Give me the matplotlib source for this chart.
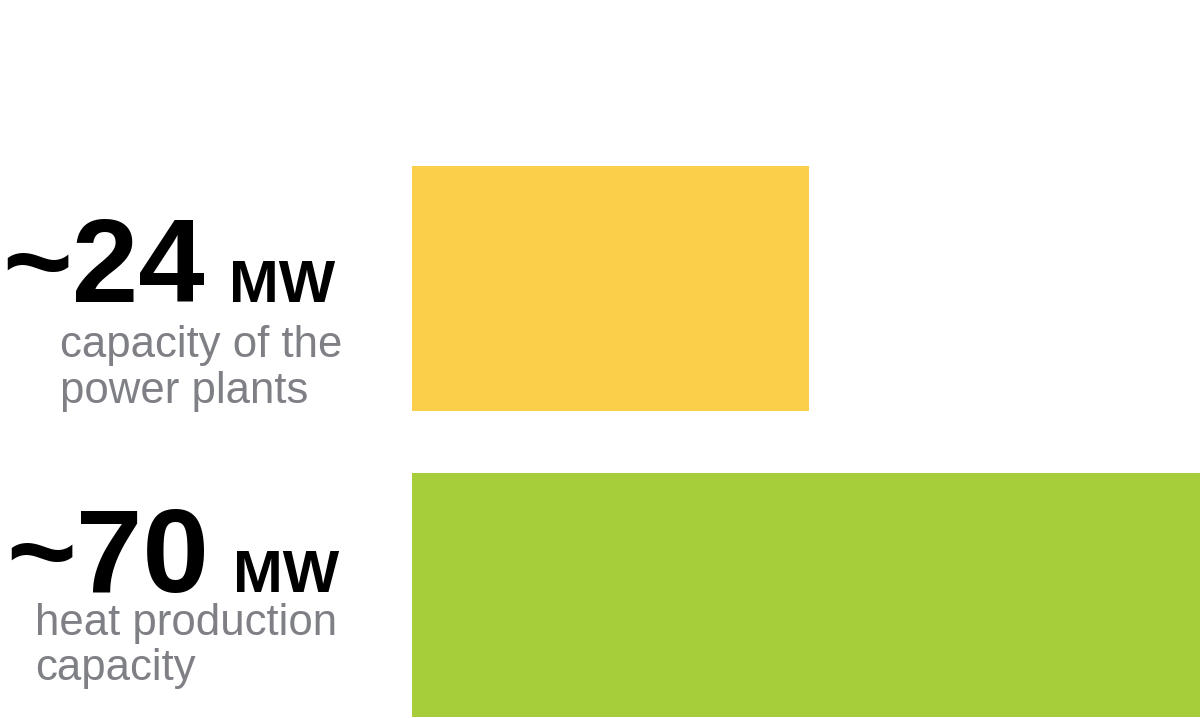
import numpy as np
import matplotlib.pyplot as plt

# data
values = [24, 70]
big_labels = ['~24', '~70']
unit = 'MW'
descriptions = [['capacity of the', 'power plants'],
                ['heat production', 'capacity']]
colors = ['#FCCF4B', '#A6CE3A']

W, H = 1200, 718
fig = plt.figure(figsize=(W / 100, H / 100), dpi=100)
fig.patch.set_facecolor('white')

# bar area starts at x=412 px
ax = fig.add_axes([412 / W, 0, (W - 412) / W, 1])
y = np.arange(len(values))
ax.barh(y, values, height=0.8, color=colors, left=0)
ax.set_xlim(0, 47.6)
ax.set_ylim(1.402, -0.944)
ax.axis('off')


def px(x, yy):
    return x / W, 1 - yy / H


# text blocks on the left
num_right = [205, 209]
num_base = [302, 592]
unit_right = [335, 339]
desc_left = [60, 35]
desc_base = [[357, 403], [635, 680]]

for i in range(len(values)):
    fig.text(*px(num_right[i], num_base[i]), big_labels[i], ha='right', va='baseline',
             fontsize=86, fontweight='bold', family='Liberation Sans', color='black')
    fig.text(*px(unit_right[i], num_base[i]), unit, ha='right', va='baseline',
             fontsize=43, fontweight='bold', family='Liberation Sans', color='black')
    for j, line in enumerate(descriptions[i]):
        fig.text(*px(desc_left[i], desc_base[i][j]), line, ha='left', va='baseline',
                 fontsize=31.5, family='Liberation Sans', color='#7E8085')

fig.savefig('out.png', dpi=100, facecolor='white')
